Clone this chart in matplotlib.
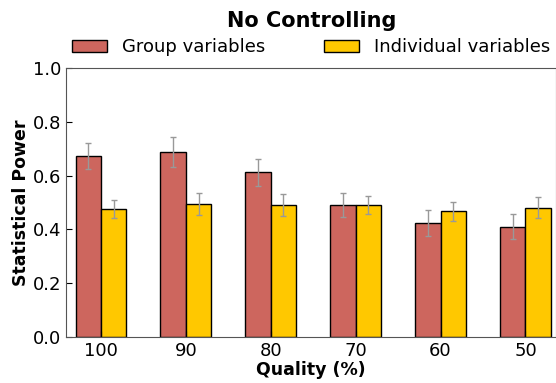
import numpy as np
import matplotlib.pyplot as plt

qualities = ["100", "90", "80", "70", "60", "50"]
group_power = [0.673, 0.688, 0.613, 0.490, 0.424, 0.410]
group_err = [0.048, 0.055, 0.050, 0.045, 0.048, 0.046]
indiv_power = [0.476, 0.494, 0.491, 0.490, 0.468, 0.481]
indiv_err = [0.035, 0.040, 0.040, 0.033, 0.036, 0.038]

fig = plt.figure(figsize=(5.56, 3.83), dpi=100)
ax = fig.add_axes([0.119, 0.120, 0.881, 0.702])

x = np.arange(len(qualities))
w = 0.3
err_style = dict(ecolor="#999999", elinewidth=1, capsize=2.5, capthick=1)
ax.bar(x - w, group_power, w, align="edge", color="#CD665E", edgecolor="black",
       linewidth=1, yerr=group_err, error_kw=err_style, label="Group variables")
ax.bar(x, indiv_power, w, align="edge", color="#FFC800", edgecolor="black",
       linewidth=1, yerr=indiv_err, error_kw=err_style, label="Individual variables")

ax.set_xlim(-0.41, 5.36)
ax.set_ylim(0, 1.0)
ax.set_xticks(x)
ax.set_xticklabels(qualities)
ax.set_yticks(np.arange(0, 1.01, 0.2))
ax.tick_params(direction="in", labelsize=13, length=4, top=False, right=False)
for s in ax.spines.values():
    s.set_color("#555555")

ax.set_xlabel("Quality (%)", fontsize=12.5, fontweight="bold", labelpad=1)
ax.set_ylabel("Statistical Power", fontsize=12.5, fontweight="bold", labelpad=2)
fig.suptitle("No Controlling", fontsize=15, fontweight="bold", x=0.561, y=0.972)
ax.legend(loc="lower center", bbox_to_anchor=(0.5, 1.0), ncol=2, frameon=False,
          fontsize=13, handlelength=1.95, handletextpad=0.83, columnspacing=3.25,
          borderaxespad=0.25)

fig.savefig("out.png", dpi=100)
